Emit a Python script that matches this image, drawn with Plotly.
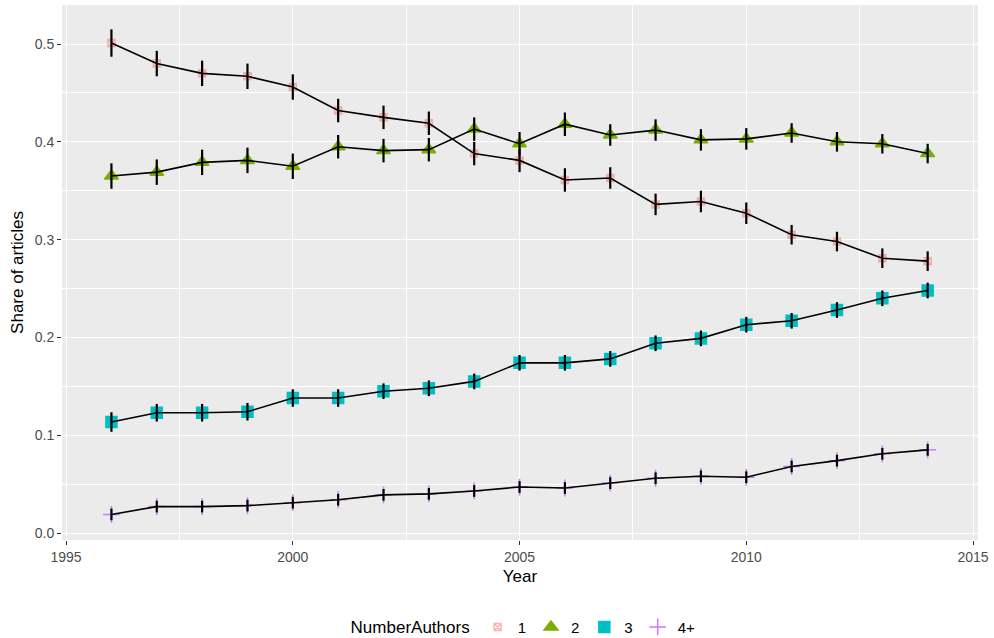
import plotly.graph_objects as go

years = list(range(1996, 2015))

share_1 = [0.501, 0.480, 0.470, 0.467, 0.456, 0.432, 0.425, 0.419, 0.388, 0.381,
           0.361, 0.363, 0.336, 0.339, 0.327, 0.305, 0.298, 0.281, 0.278]
share_2 = [0.365, 0.369, 0.379, 0.381, 0.375, 0.395, 0.391, 0.392, 0.413, 0.398,
           0.418, 0.407, 0.412, 0.402, 0.403, 0.409, 0.400, 0.398, 0.388]
share_3 = [0.1135, 0.123, 0.123, 0.124, 0.138, 0.138, 0.145, 0.148, 0.155, 0.174,
           0.174, 0.178, 0.194, 0.199, 0.213, 0.217, 0.228, 0.240, 0.248]
share_4 = [0.019, 0.027, 0.027, 0.028, 0.031, 0.034, 0.039, 0.040, 0.043, 0.047,
           0.046, 0.051, 0.056, 0.058, 0.057, 0.068, 0.074, 0.081, 0.085]

err_1 = [0.014, 0.013, 0.013, 0.013, 0.013, 0.012, 0.012, 0.012, 0.012, 0.012,
         0.012, 0.011, 0.011, 0.011, 0.011, 0.010, 0.010, 0.010, 0.010]
err_2 = [0.013, 0.013, 0.013, 0.013, 0.013, 0.012, 0.012, 0.012, 0.012, 0.012,
         0.012, 0.011, 0.011, 0.011, 0.011, 0.010, 0.010, 0.010, 0.010]
err_3 = [0.010, 0.009, 0.009, 0.009, 0.009, 0.009, 0.008, 0.008, 0.008, 0.008,
         0.008, 0.008, 0.008, 0.008, 0.008, 0.008, 0.008, 0.008, 0.008]
err_4 = [0.006, 0.006, 0.006, 0.006, 0.006, 0.006, 0.006, 0.006, 0.006, 0.006,
         0.006, 0.006, 0.006, 0.006, 0.006, 0.006, 0.006, 0.006, 0.006]

groups = ["1", "2", "3", "4+"]
values = [share_1, share_2, share_3, share_4]
errors = [err_1, err_2, err_3, err_4]
colors = ["#F8766D", "#7CAE00", "#00BFC4", "#C77CFF"]
symbols = ["square-x-open", "triangle-up", "square", "cross-thin-open"]
sizes = [7, 12, 11, 12]
opac = [0.55, 1, 1, 1]

fig = go.Figure()
for g, v, e, c, s, sz, op in zip(groups, values, errors, colors, symbols, sizes, opac):
    fig.add_trace(go.Scatter(
        x=years, y=v, mode="markers", name=g,
        marker=dict(symbol=s, color=c, size=sz, opacity=op,
                    line=dict(color=c, width=1.5)),
    ))
for g, v, e in zip(groups, values, errors):
    fig.add_trace(go.Scatter(
        x=years, y=v, mode="lines", showlegend=False,
        line=dict(color="black", width=1.6),
        error_y=dict(type="data", array=e, color="black", thickness=2.2, width=0),
    ))

font = "Liberation Sans, Arial, sans-serif"
fig.update_layout(
    width=994, height=638,
    margin=dict(l=62, r=16, t=5, b=98, autoexpand=False),
    paper_bgcolor="white", plot_bgcolor="#EBEBEB",
    font=dict(family=font, color="black"),
    xaxis=dict(
        range=[1994.91, 2015.11], tickvals=[1995, 2000, 2005, 2010, 2015],
        showgrid=True, gridcolor="white", gridwidth=1.1, zeroline=False,
        ticks="outside", ticklen=4, tickcolor="#333333", tickwidth=1,
        tickfont=dict(size=14, color="#4D4D4D"), automargin=False,
        title=dict(text="Year", font=dict(size=17), standoff=6),
        minor=dict(tickvals=[1997.5, 2002.5, 2007.5, 2012.5], showgrid=True,
                   gridcolor="white", gridwidth=0.5),
        showline=False,
    ),
    yaxis=dict(
        range=[-0.00716, 0.5399], tickvals=[0, 0.1, 0.2, 0.3, 0.4, 0.5],
        ticktext=["0.0", "0.1", "0.2", "0.3", "0.4", "0.5"],
        showgrid=True, gridcolor="white", gridwidth=1.1, zeroline=False,
        ticks="outside", ticklen=4, tickcolor="#333333", tickwidth=1,
        tickfont=dict(size=14, color="#4D4D4D"), automargin=False,
        title=dict(text="Share of articles", font=dict(size=17), standoff=6),
        minor=dict(tickvals=[0.05, 0.15, 0.25, 0.35, 0.45], showgrid=True,
                   gridcolor="white", gridwidth=0.5),
        showline=False,
    ),
    legend=dict(
        orientation="h", x=0.505, xanchor="center", y=-0.163, yanchor="middle",
        title=dict(text="NumberAuthors", font=dict(size=17), side="left"),
        font=dict(size=15), itemwidth=30, bgcolor="rgba(0,0,0,0)",
    ),
)

fig.write_html(
    "out.html",
    config={"displayModeBar": False},
    post_script="document.body.style.margin='0';document.body.style.padding='0';",
)
